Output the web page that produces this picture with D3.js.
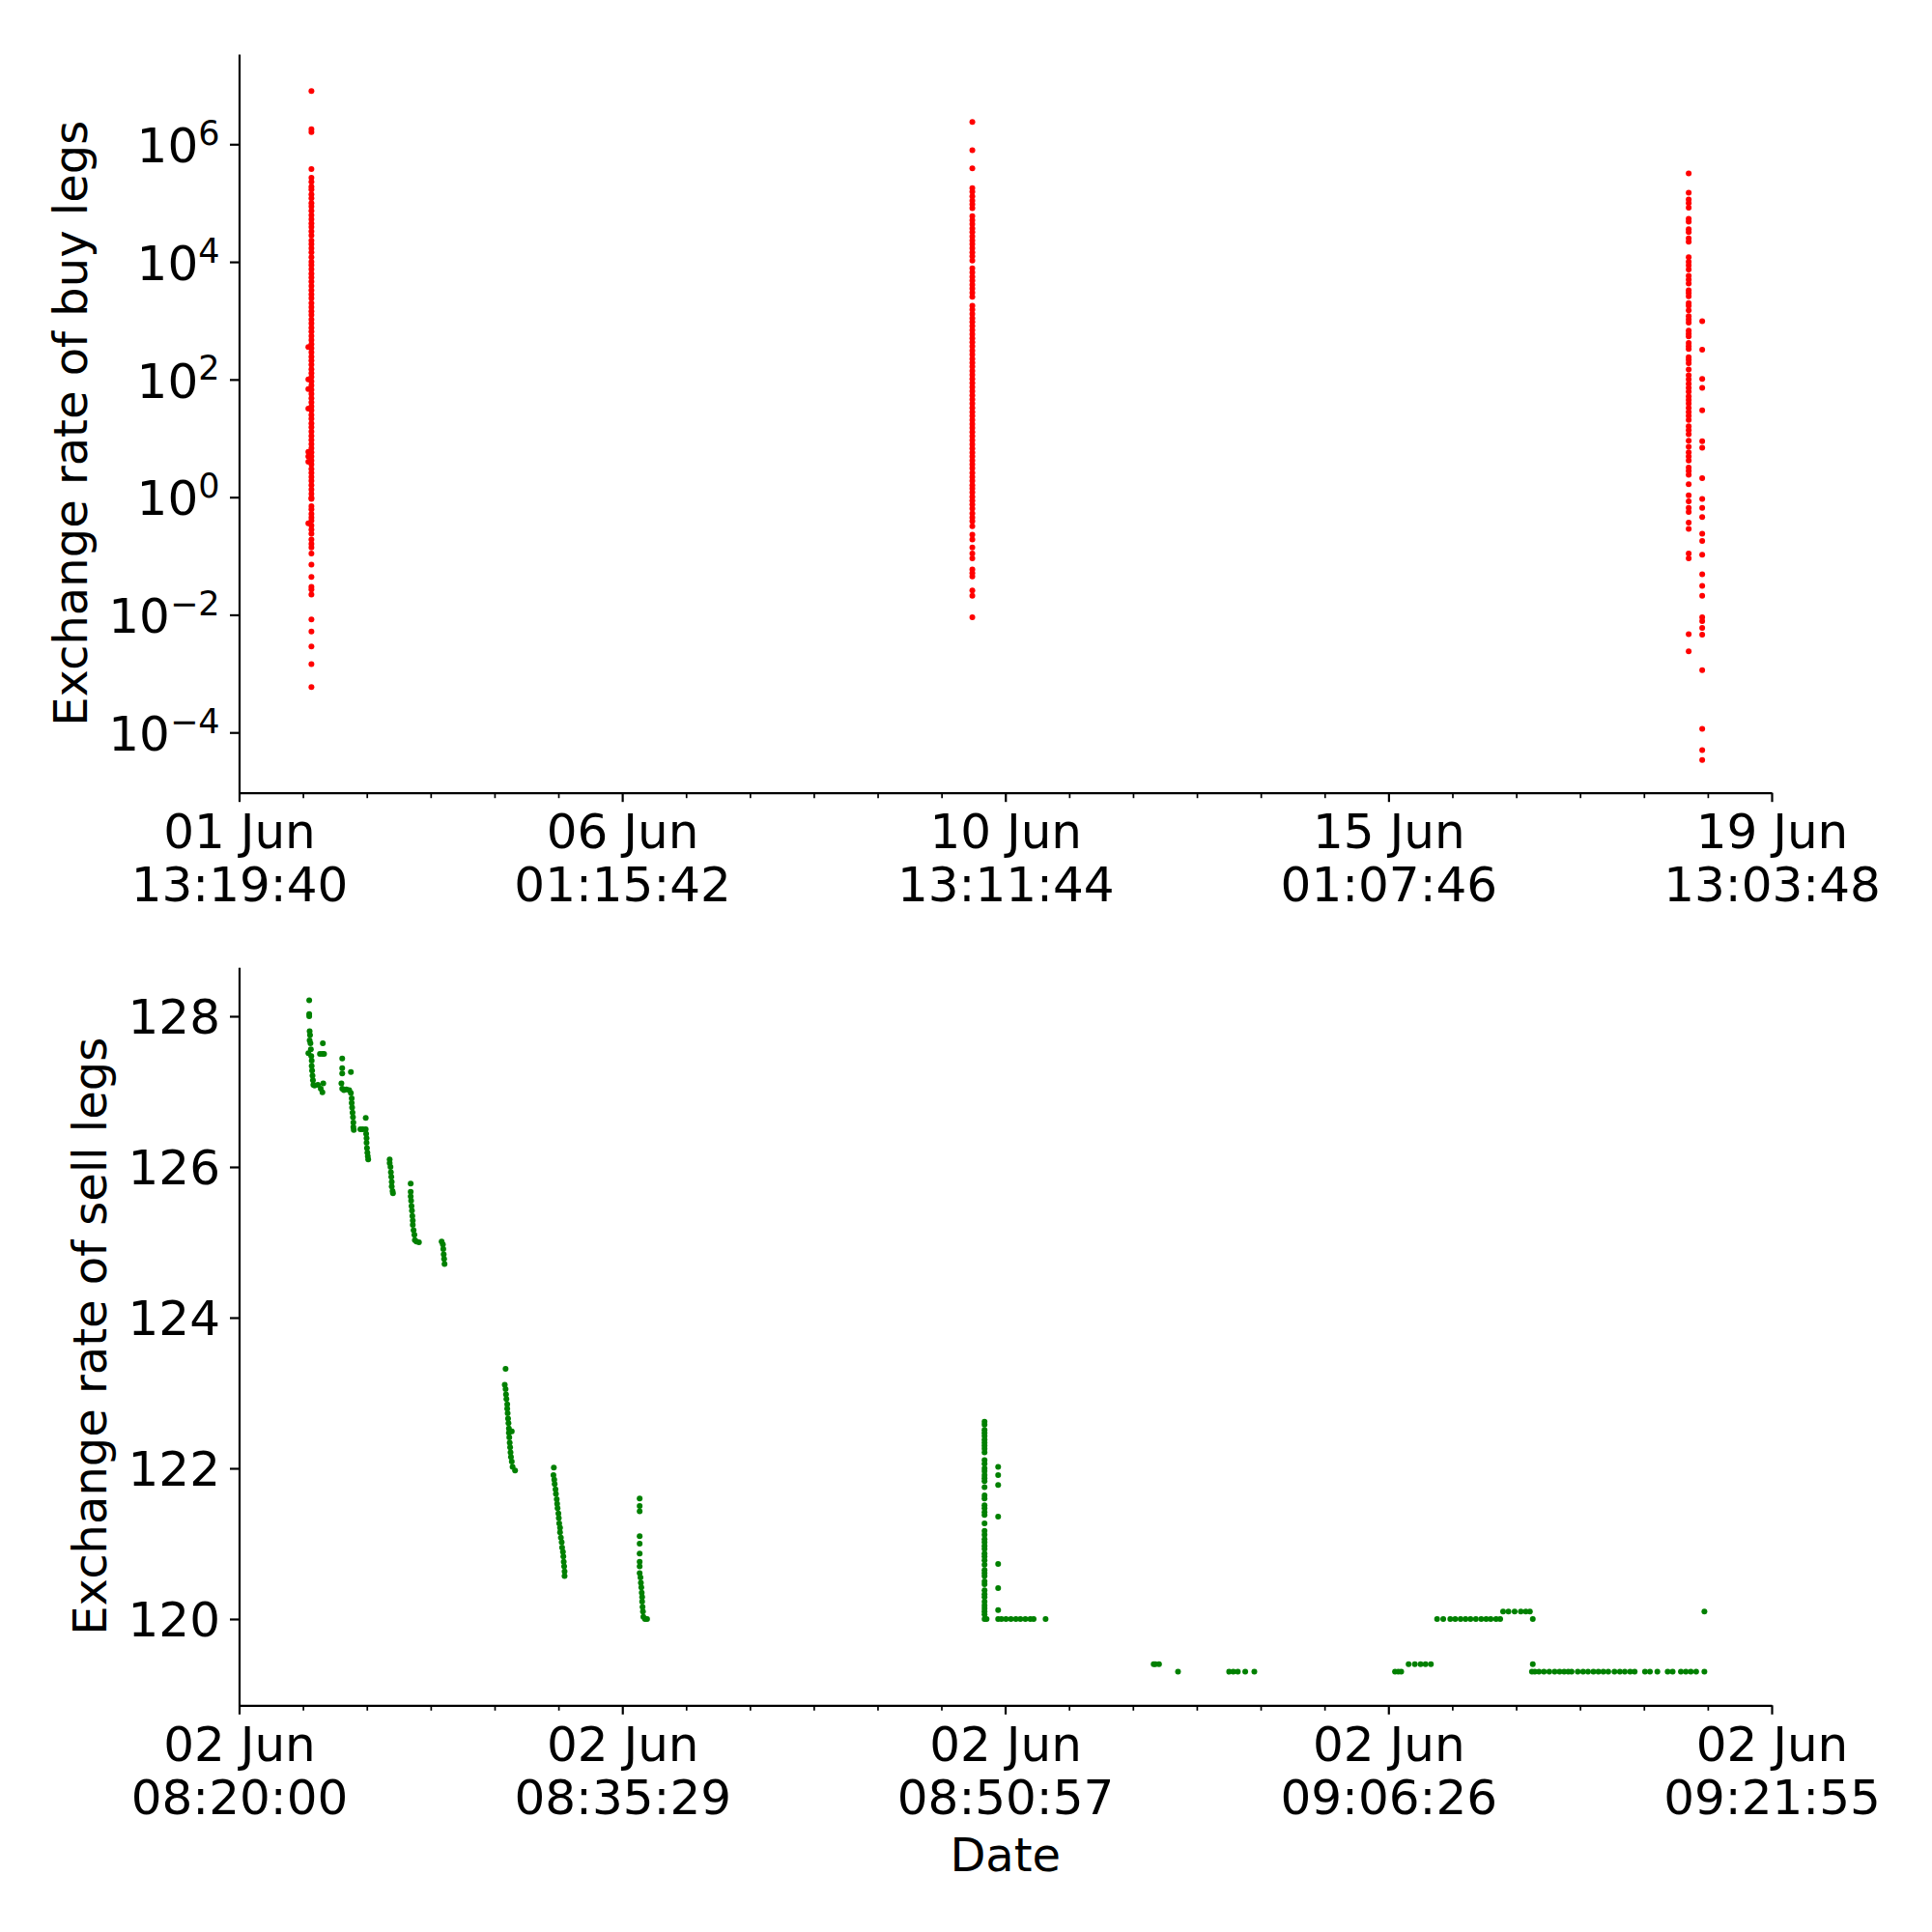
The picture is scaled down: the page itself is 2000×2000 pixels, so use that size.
<!DOCTYPE html>
<html>
<head>
<meta charset="utf-8">
<script src="https://cdn.jsdelivr.net/npm/d3@7"></script>
<style>
  body { margin: 0; background: #fff; }
  text { font-family: "DejaVu Sans", sans-serif; fill: #000; }
</style>
</head>
<body>
<div id="chart-area"></div>
<script>
/*
*    exchange rates of buy / sell legs
*/

// ---- tick labels ----
var buyXTicks = ["2021-06-01 13:19:40", "2021-06-06 01:15:42", "2021-06-10 13:11:44", "2021-06-15 01:07:46", "2021-06-19 13:03:48"];
var sellXTicks = ["2021-06-02 08:20:00", "2021-06-02 08:35:29", "2021-06-02 08:50:57", "2021-06-02 09:06:26", "2021-06-02 09:21:55"];
var buyYTicks = [1e-4, 1e-2, 1, 1e2, 1e4, 1e6];
var buyYExps = ["\u22124", "\u22122", "0", "2", "4", "6"];
var sellYTicks = [120, 122, 124, 126, 128];

// ---- buy legs: time of each batch, then the rates in it ----
var buyTimes = ["2021-06-02 09:42:24", "2021-06-02 08:50:12", "2021-06-10 03:53:22", "2021-06-18 13:41:36", "2021-06-18 17:30:09"];

var buyRatesA = [8.0e6, 1.8e6, 1.6e6, 3.8e5,
  2.7e5, 2.3e5, 1.9e5, 1.7e5, 1.4e5, 1.2e5, 1.0e5, 8.7e4, 7.4e4, 6.2e4, 5.3e4, 4.5e4, 3.9e4, 3.3e4, 2.8e4, 2.3e4,
  2.0e4, 1.7e4, 1.45e4, 1.2e4, 1.0e4, 8.8e3, 7.5e3, 6.3e3, 5.4e3, 4.6e3, 3.9e3, 3.3e3, 2.8e3, 2.4e3, 2.0e3, 1.7e3,
  1.45e3, 1.25e3, 1.05e3, 900, 760, 650, 550, 470, 400, 340, 290, 245, 210, 178, 150, 128, 110, 93, 79, 67, 57, 48,
  41, 35, 30, 25, 21.5, 18, 15.5, 13, 11, 9.4, 8.0, 6.8, 5.8, 4.9, 4.2, 3.6, 3.0, 2.6, 2.2, 1.9, 1.6, 1.35, 1.15,
  0.98, 0.93, 0.70, 0.62, 0.52, 0.45, 0.40, 0.33, 0.28, 0.24, 0.19, 0.16, 0.14,
  0.11, 0.071, 0.044, 0.030, 0.027, 0.022, 8.3e-3, 5.2e-3, 2.9e-3, 1.45e-3, 5.9e-4];
var buyRatesA0 = [355, 100, 69, 32, 5.9, 4.9, 4.0, 0.36];
var buyRatesB = [2.4e6, 7.9e5, 3.9e5,
  1.8e5, 1.55e5, 1.3e5, 1.1e5, 9.5e4, 8.2e4, 6.0e4, 5.1e4, 4.4e4, 3.7e4, 3.2e4, 2.7e4, 2.3e4, 2.0e4, 1.7e4, 1.45e4,
  1.25e4, 1.05e4, 7.8e3, 6.6e3, 5.6e3, 4.8e3, 4.1e3, 3.5e3, 3.0e3, 2.55e3, 1.8e3, 1.55e3, 1.3e3, 1.1e3, 950, 810,
  690, 590, 500, 430, 365, 310, 265, 225, 192, 165, 140, 120, 102, 87, 74, 63, 54, 46, 39, 33, 28, 24, 20.5, 17.5,
  15, 12.8, 10.9, 9.3, 7.9, 6.7, 5.7, 4.9, 4.2, 3.6, 3.1, 2.6, 2.2, 1.9, 1.6, 1.4, 1.2, 1.02, 0.87, 0.75, 0.64,
  0.53, 0.45, 0.39, 0.32, 0.23, 0.19, 0.14, 0.11, 0.091, 0.059, 0.051, 0.045, 0.026, 0.021, 9.1e-3];
var buyRatesC = [3.2e5, 1.5e5, 1.15e5, 1.0e5, 8.3e4, 5.4e4, 4.8e4, 3.6e4, 3.2e4, 2.5e4, 2.2e4, 1.2e4, 1.0e4, 8.7e3,
  7.4e3, 5.8e3, 5.0e3, 4.3e3, 3.3e3, 2.95e3, 2.6e3, 2.0e3, 1.8e3, 1.5e3, 1.2e3, 1.05e3, 930, 680, 600, 540, 420,
  370, 330, 240, 215, 190, 148, 118, 100, 85, 72, 62, 52, 45, 39, 33, 28, 24, 20.5, 16, 13.8, 11.7, 9.1, 7.2, 5.8,
  4.9, 4.2, 3.2, 2.8, 2.4, 1.66, 1.07, 0.85, 0.66, 0.56, 0.37, 0.29, 0.11, 0.091, 4.7e-3, 2.4e-3];
var buyRatesC2 = [980, 320, 102, 72, 30, 8.9, 6.9, 2.1, 0.93, 0.66, 0.46, 0.24, 0.18, 0.105, 0.049, 0.031, 0.021,
  9.1e-3, 7.8e-3, 6.0e-3, 4.6e-3, 1.15e-3, 1.15e-4, 5.0e-5, 3.4e-5];

// ---- sell legs on 02 Jun: [time, rate] ----
var sellRunA = [["08:22:50", 128.21], ["08:22:50", 128.03], ["08:22:50", 128.00], ["08:22:51", 127.80], ["08:22:52", 127.75],
  ["08:22:51", 127.68], ["08:22:53", 127.64], ["08:22:54", 127.56], ["08:22:48", 127.51], ["08:22:55", 127.47],
  ["08:22:56", 127.41], ["08:22:56", 127.34], ["08:22:57", 127.28], ["08:22:58", 127.21], ["08:22:59", 127.15],
  ["08:23:00", 127.09], ["08:23:03", 127.08], ["08:23:11", 127.09], ["08:23:18", 127.04], ["08:23:22", 126.99],
  ["08:23:23", 127.64], ["08:23:16", 127.50], ["08:23:22", 127.50], ["08:23:26", 127.50], ["08:23:24", 127.11]];
var sellRunB = [["08:24:10", 127.44], ["08:24:10", 127.31], ["08:24:10", 127.24], ["08:24:31", 127.26], ["08:24:08", 127.11],
  ["08:24:10", 127.04], ["08:24:14", 127.02], ["08:24:20", 127.03], ["08:24:27", 127.02], ["08:24:31", 126.98],
  ["08:24:33", 126.91], ["08:24:33", 126.85], ["08:24:34", 126.79], ["08:24:35", 126.72], ["08:24:36", 126.66],
  ["08:24:37", 126.59], ["08:24:37", 126.53], ["08:24:38", 126.49]];
var sellRunC = [["08:25:07", 126.65], ["08:24:54", 126.50], ["08:25:00", 126.50], ["08:25:07", 126.50], ["08:25:08", 126.44],
  ["08:25:09", 126.38], ["08:25:09", 126.32], ["08:25:10", 126.25], ["08:25:11", 126.19], ["08:25:12", 126.14],
  ["08:25:13", 126.10]];
var sellRunD = [["08:26:05", 126.10], ["08:26:05", 126.05], ["08:26:07", 126.00], ["08:26:08", 125.93], ["08:26:09", 125.87],
  ["08:26:10", 125.80], ["08:26:10", 125.74], ["08:26:12", 125.68], ["08:26:13", 125.65]];
var sellRunE = [["08:26:56", 125.78], ["08:26:56", 125.67], ["08:26:56", 125.61], ["08:26:57", 125.55], ["08:26:58", 125.48],
  ["08:26:59", 125.42], ["08:27:00", 125.35], ["08:27:01", 125.29], ["08:27:01", 125.23], ["08:27:03", 125.16],
  ["08:27:05", 125.10], ["08:27:06", 125.03], ["08:27:10", 125.01], ["08:27:16", 125.00]];
var sellRunF = [["08:28:11", 125.01], ["08:28:14", 124.97], ["08:28:15", 124.91], ["08:28:16", 124.84], ["08:28:17", 124.78],
  ["08:28:18", 124.71]];
var sellRunG = [["08:30:46", 123.32], ["08:30:44", 123.11], ["08:30:46", 123.05], ["08:30:47", 122.98], ["08:30:48", 122.92],
  ["08:30:50", 122.85], ["08:30:50", 122.79], ["08:30:51", 122.73], ["08:30:52", 122.66], ["08:30:53", 122.60],
  ["08:30:54", 122.53], ["08:31:01", 122.49], ["08:30:54", 122.47], ["08:30:55", 122.41], ["08:30:56", 122.34],
  ["08:30:57", 122.28], ["08:30:58", 122.21], ["08:30:59", 122.15], ["08:31:01", 122.09], ["08:31:03", 122.02],
  ["08:31:09", 121.97]];
var sellRunH = [["08:32:43", 122.01], ["08:32:42", 121.91], ["08:32:44", 121.85], ["08:32:45", 121.79], ["08:32:47", 121.72],
  ["08:32:48", 121.66], ["08:32:50", 121.59], ["08:32:51", 121.53], ["08:32:52", 121.47], ["08:32:54", 121.40],
  ["08:32:55", 121.34], ["08:32:56", 121.27], ["08:32:58", 121.21], ["08:32:58", 121.15], ["08:33:00", 121.08],
  ["08:33:02", 121.02], ["08:33:03", 120.95], ["08:33:05", 120.89], ["08:33:06", 120.83], ["08:33:07", 120.76],
  ["08:33:08", 120.70], ["08:33:09", 120.63], ["08:33:09", 120.57]];
var sellRunI = [["08:36:11", 121.60], ["08:36:11", 121.50], ["08:36:11", 121.43], ["08:36:11", 121.10], ["08:36:11", 121.00],
  ["08:36:11", 120.87], ["08:36:11", 120.76], ["08:36:11", 120.70], ["08:36:11", 120.61], ["08:36:13", 120.55],
  ["08:36:14", 120.48], ["08:36:15", 120.42], ["08:36:16", 120.35], ["08:36:17", 120.29], ["08:36:17", 120.23],
  ["08:36:18", 120.16], ["08:36:19", 120.10], ["08:36:20", 120.03], ["08:36:24", 120.00], ["08:36:29", 120.00]];
var sellRunJ = [["08:50:07", 122.62], ["08:50:07", 122.58], ["08:50:07", 122.51], ["08:50:07", 122.47], ["08:50:07", 122.43],
  ["08:50:07", 122.38], ["08:50:07", 122.34], ["08:50:07", 122.30], ["08:50:07", 122.26], ["08:50:07", 122.21],
  ["08:50:07", 122.11], ["08:50:07", 122.06], ["08:50:07", 122.00], ["08:50:07", 121.96], ["08:50:07", 121.91],
  ["08:50:07", 121.87], ["08:50:07", 121.83], ["08:50:07", 121.75], ["08:50:07", 121.64], ["08:50:07", 121.60],
  ["08:50:07", 121.51], ["08:50:07", 121.47], ["08:50:07", 121.42], ["08:50:07", 121.38], ["08:50:07", 121.27],
  ["08:50:07", 121.17], ["08:50:07", 121.12], ["08:50:07", 121.06], ["08:50:07", 121.02], ["08:50:07", 120.97],
  ["08:50:07", 120.93], ["08:50:07", 120.87], ["08:50:07", 120.83], ["08:50:07", 120.78], ["08:50:07", 120.72],
  ["08:50:07", 120.65], ["08:50:07", 120.61], ["08:50:07", 120.57], ["08:50:07", 120.50], ["08:50:07", 120.46],
  ["08:50:07", 120.38], ["08:50:07", 120.33], ["08:50:07", 120.29], ["08:50:07", 120.23], ["08:50:07", 120.18],
  ["08:50:07", 120.14], ["08:50:07", 120.10], ["08:50:07", 120.06], ["08:50:07", 120.00], ["08:50:12", 120.00],
  ["08:50:40", 122.02], ["08:50:40", 121.91], ["08:50:40", 121.78], ["08:50:40", 121.36], ["08:50:40", 120.73],
  ["08:50:40", 120.41], ["08:50:40", 120.12], ["08:50:40", 120.00], ["08:50:48", 120.00], ["08:50:59", 120.00],
  ["08:51:11", 120.00], ["08:51:23", 120.00], ["08:51:34", 120.00], ["08:51:46", 120.00], ["08:51:58", 120.00],
  ["08:52:06", 120.00], ["08:52:35", 120.00]];
var sellRunK = [["08:56:57", 119.40], ["08:57:01", 119.40], ["08:57:10", 119.40], ["08:57:56", 119.30], ["09:00:00", 119.30],
  ["09:00:10", 119.30], ["09:00:21", 119.30], ["09:00:39", 119.30], ["09:01:01", 119.30]];
var sellRunL = [["09:06:42", 119.30], ["09:06:50", 119.30], ["09:06:57", 119.30], ["09:07:15", 119.40], ["09:07:30", 119.40],
  ["09:07:44", 119.40], ["09:07:56", 119.40], ["09:08:09", 119.40], ["09:08:24", 120.00], ["09:08:39", 120.00],
  ["09:08:56", 120.00], ["09:09:08", 120.00], ["09:09:21", 120.00], ["09:09:33", 120.00], ["09:09:45", 120.00],
  ["09:09:58", 120.00], ["09:10:11", 120.00], ["09:10:23", 120.00], ["09:10:34", 120.00], ["09:10:47", 120.00],
  ["09:10:57", 120.00], ["09:11:04", 120.10], ["09:11:17", 120.10], ["09:11:32", 120.10], ["09:11:47", 120.10],
  ["09:11:59", 120.10], ["09:12:09", 120.10], ["09:12:16", 120.00], ["09:12:16", 119.40]];
var sellRunM = [["09:12:14", 119.30], ["09:12:21", 119.30], ["09:12:31", 119.30], ["09:12:43", 119.30], ["09:12:56", 119.30],
  ["09:13:09", 119.30], ["09:13:21", 119.30], ["09:13:32", 119.30], ["09:13:42", 119.30], ["09:13:50", 119.30],
  ["09:14:05", 119.30], ["09:14:18", 119.30], ["09:14:30", 119.30], ["09:14:43", 119.30], ["09:14:55", 119.30],
  ["09:15:07", 119.30], ["09:15:19", 119.30], ["09:15:34", 119.30], ["09:15:47", 119.30], ["09:15:59", 119.30],
  ["09:16:12", 119.30], ["09:16:23", 119.30], ["09:16:48", 119.30], ["09:17:00", 119.30], ["09:17:18", 119.30],
  ["09:17:43", 119.30], ["09:17:55", 119.30], ["09:18:15", 119.30], ["09:18:27", 119.30], ["09:18:39", 119.30],
  ["09:18:52", 119.30], ["09:19:12", 119.30], ["09:19:12", 120.10]];

// ---- layout ----
var width = 2000, height = 2000;
var left = 247.5, right = 1834;
var top1 = 56, bottom1 = 820.7;
var top2 = 1001.3, bottom2 = 1765.3;
var tickFont = 50, labelFont = 48;
var dotR = 3;

var parseTime = d3.timeParse("%Y-%m-%d %H:%M:%S");
var fmtDay = d3.timeFormat("%d %b");
var fmtClock = d3.timeFormat("%H:%M:%S");

var svg = d3.select("#chart-area").append("svg").attr("width", width).attr("height", height)
  .style("background", "#fff");

// build point lists
var buyGroups = [[buyTimes[0], buyRatesA], [buyTimes[1], buyRatesA0], [buyTimes[2], buyRatesB], [buyTimes[3], buyRatesC], [buyTimes[4], buyRatesC2]];
var buyData = [];
buyGroups.forEach((g) => {
  var t = parseTime(g[0]);
  g[1].forEach((v) => { buyData.push({t: t, v: v}); });
});
var sellData = [].concat(sellRunA, sellRunB, sellRunC, sellRunD, sellRunE, sellRunF, sellRunG, sellRunH, sellRunI, sellRunJ, sellRunK, sellRunL, sellRunM)
  .map((d) => { return {t: parseTime("2021-06-02 " + d[0]), v: d[1]}; });

var buyTickDates = buyXTicks.map(parseTime);
var sellTickDates = sellXTicks.map(parseTime);

// scales
var x1 = d3.scaleTime().domain([buyTickDates[0], buyTickDates[buyTickDates.length - 1]]).range([left, right]);
var y1 = d3.scaleLog().domain([Math.pow(10, -5.026), Math.pow(10, 7.532)]).range([bottom1, top1]);
var x2 = d3.scaleTime().domain([sellTickDates[0], sellTickDates[sellTickDates.length - 1]]).range([left, right]);
var y2 = d3.scaleLinear().domain([118.855, 128.65]).range([bottom2, top2]);

function minorTicks(majors) {
  var out = [];
  for (var i = 0; i < majors.length - 1; i++) {
    var a = +majors[i], b = +majors[i + 1];
    for (var k = 1; k < 6; k++) out.push(new Date(a + (b - a) * k / 6));
  }
  return out;
}

function styleAxis(g) {
  g.select(".domain").attr("stroke", "#000").attr("stroke-width", 2.2);
  g.selectAll(".tick line").attr("stroke", "#000").attr("stroke-width", 2.2);
  g.attr("font-family", null).attr("font-size", null);
}

function drawXAxis(x, majors, yPos) {
  var gMinor = svg.append("g").attr("transform", "translate(0," + yPos + ")")
    .call(d3.axisBottom(x).tickValues(minorTicks(majors)).tickSize(5.5).tickSizeOuter(0).tickFormat(""));
  gMinor.select(".domain").remove();
  gMinor.selectAll(".tick line").attr("stroke", "#000").attr("stroke-width", 1.7);

  var g = svg.append("g").attr("transform", "translate(0," + yPos + ")")
    .call(d3.axisBottom(x).tickValues(majors).tickSize(9.5).tickSizeOuter(0).tickFormat(""));
  styleAxis(g);
  g.selectAll(".tick text").remove();
  var lbl = g.selectAll(".tick").append("text").attr("text-anchor", "middle").style("font-size", tickFont + "px");
  lbl.append("tspan").attr("x", 0).attr("y", 57.5).text((d) => fmtDay(d));
  lbl.append("tspan").attr("x", 0).attr("y", 112.6).text((d) => fmtClock(d));
}

// ---- top panel: buy legs ----
drawXAxis(x1, buyTickDates, bottom1);

var gy1 = svg.append("g").attr("transform", "translate(" + left + ",0)")
  .call(d3.axisLeft(y1).tickValues(buyYTicks).tickSize(9.5).tickSizeOuter(0).tickFormat(""));
styleAxis(gy1);
gy1.selectAll(".tick text").remove();
var ylab = gy1.selectAll(".tick").append("text").attr("x", -20).attr("y", 18.3)
  .attr("text-anchor", "end").style("font-size", tickFont + "px");
ylab.append("tspan").text("10");
ylab.append("tspan").attr("dy", -18.3).style("font-size", "35px").text((d, i) => buyYExps[i]);

svg.append("g").selectAll("circle").data(buyData).enter().append("circle")
  .attr("cx", (d) => x1(d.t)).attr("cy", (d) => y1(d.v)).attr("r", dotR).attr("fill", "red");

svg.append("text").attr("transform", "translate(90," + ((top1 + bottom1) / 2) + ") rotate(-90)")
  .attr("text-anchor", "middle").style("font-size", labelFont + "px").text("Exchange rate of buy legs");

// ---- bottom panel: sell legs ----
drawXAxis(x2, sellTickDates, bottom2);

var gy2 = svg.append("g").attr("transform", "translate(" + left + ",0)")
  .call(d3.axisLeft(y2).tickValues(sellYTicks).tickSize(9.5).tickPadding(10).tickSizeOuter(0).tickFormat(d3.format("d")));
styleAxis(gy2);
gy2.selectAll(".tick text").attr("dy", "0.36em").style("font-size", tickFont + "px").attr("fill", "#000");

svg.append("g").selectAll("circle").data(sellData).enter().append("circle")
  .attr("cx", (d) => x2(d.t)).attr("cy", (d) => y2(d.v)).attr("r", dotR).attr("fill", "green");

svg.append("text").attr("transform", "translate(110," + ((top2 + bottom2) / 2) + ") rotate(-90)")
  .attr("text-anchor", "middle").style("font-size", labelFont + "px").text("Exchange rate of sell legs");

svg.append("text").attr("x", (left + right) / 2).attr("y", bottom2 + 172)
  .attr("text-anchor", "middle").style("font-size", labelFont + "px").text("Date");
</script>
</body>
</html>
